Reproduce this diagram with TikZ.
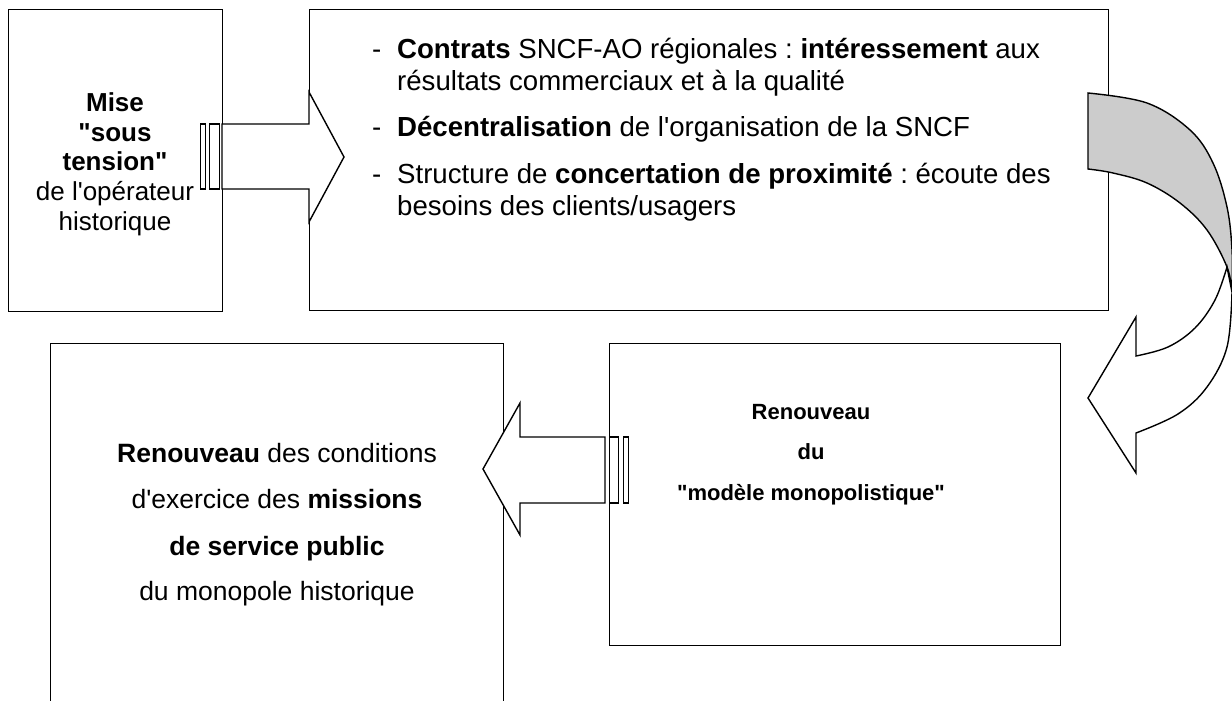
\documentclass[tikz,border=0pt]{standalone}
\usepackage{fontspec}
\newfontfamily\af{Liberation Sans}
\frenchspacing
\begin{document}
\begin{tikzpicture}[x=1pt,y=-1pt,
  box/.style={draw=black, line width=1.4pt, fill=white, inner sep=0pt, anchor=north west},
  blockarrow/.style={draw=black, fill=white, line width=1.4pt, line join=miter},
  stripe/.style={draw=black, fill=white, line width=1.2pt},
  backband/.style={draw=black, fill=gray!40, line width=1.4pt},
  frontband/.style={draw=black, fill=white, line width=1.4pt},
  ta/.style={font=\af\fontsize{26}{30}\selectfont, inner sep=0pt, anchor=base},
  tb/.style={font=\af\fontsize{27.6}{31}\selectfont, inner sep=0pt, anchor=base west},
  tc/.style={font=\af\fontsize{22}{26}\selectfont, inner sep=0pt, anchor=base},
  td/.style={font=\af\fontsize{26.5}{30}\selectfont, inner sep=0pt, anchor=base}]
\useasboundingbox (0,0) rectangle (1232,701);

% boxes
\node[box, minimum width=214pt, minimum height=302pt] (b1) at (8,9) {};
\node[box, minimum width=799pt, minimum height=301pt] (b2) at (309,9) {};
\node[box, minimum width=451pt, minimum height=302pt] (b3) at (609,343) {};
\node[box, minimum width=453pt, minimum height=380pt] (b4) at (50,343) {};

% striped right arrow b1 -> b2
\draw[blockarrow] (222,124) -- (309,124) -- (309,92) -- (344,157) -- (309,222) -- (309,189) -- (222,189) -- cycle;
\draw[stripe] (200.7,124) rectangle (205.7,189);
\draw[stripe] (209.3,124) rectangle (219.3,189);

% striped left arrow b3 -> b4
\draw[blockarrow] (605,437) -- (520,437) -- (520,403) -- (483,469) -- (520,535) -- (520,503) -- (605,503) -- cycle;
\draw[stripe] (609.3,437) rectangle (618.3,503);
\draw[stripe] (623.3,437) rectangle (628.3,503);

% curved arrow b2 -> b3
\draw[backband] (1088,93) -- plot[smooth, tension=0.6] coordinates {(1088,93) (1147,103) (1190,130) (1213,163) (1227,207) (1232,250) (1232,292)}
  -- plot[smooth, tension=0.6] coordinates {(1232,292) (1227,267) (1207,230) (1180,203) (1147,183) (1113,173) (1088,169)} -- cycle;
\draw[frontband] (1227,267) -- (1232,292)
  -- plot[smooth, tension=0.6] coordinates {(1232,292) (1227,347) (1207,387) (1178,414) (1136,433)}
  -- (1136,473) -- (1088,398) -- (1136,317) -- (1136,356)
  -- plot[smooth, tension=0.6] coordinates {(1136,356) (1168,347) (1195,328) (1215,300) (1227,267)} -- cycle;

% text box 1
\node[ta] (t1a) at (115,111) {\bfseries Mise};
\node[ta] (t1b) at (115,141) {\bfseries "sous};
\node[ta] (t1c) at (115,170) {\bfseries tension"};
\node[ta] (t1d) at (115,200) {de l\textquotesingle opérateur};
\node[ta] (t1e) at (115,230) {historique};

% text box 2
\node[tb] (d1) at (372,59) {-};
\node[tb] (t2a) at (397,59) {\textbf{Contrats} SNCF-AO régionales : \textbf{intéressement} aux};
\node[tb] (t2b) at (397,90) {résultats commerciaux et à la qualité};
\node[tb] (d2) at (372,136) {-};
\node[tb] (t2c) at (397,136) {\textbf{Décentralisation} de l\textquotesingle organisation de la SNCF};
\node[tb] (d3) at (372,183) {-};
\node[tb] (t2d) at (397,183) {Structure de \textbf{concertation de proximité} : écoute des};
\node[tb] (t2e) at (397,215) {besoins des clients/usagers};

% text box 3
\node[tc] (t3a) at (811,419) {\bfseries Renouveau};
\node[tc] (t3b) at (811,459) {\bfseries du};
\node[tc] (t3c) at (811,500) {\bfseries "modèle monopolistique"};

% text box 4
\node[td] (t4a) at (277,462) {\textbf{Renouveau} des conditions};
\node[td] (t4b) at (277,508) {d\textquotesingle exercice des \textbf{missions}};
\node[td] (t4c) at (277,555) {\textbf{de service public}};
\node[td] (t4d) at (277,600) {du monopole historique};
\end{tikzpicture}
\end{document}
